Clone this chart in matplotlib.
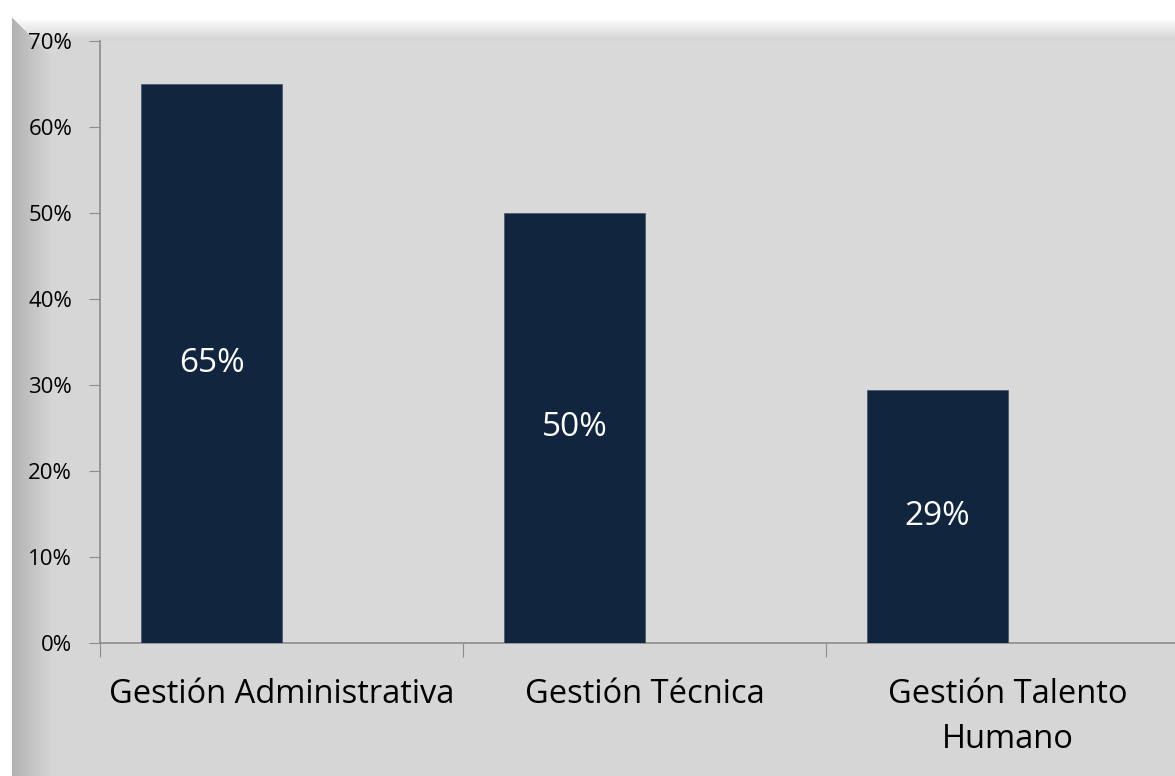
import numpy as np
import matplotlib.pyplot as plt
from matplotlib.ticker import PercentFormatter

plt.rcParams['font.family'] = ['Open Sans', 'DejaVu Sans']

categories = ['Gestión Administrativa', 'Gestión Técnica', 'Gestión Talento\nHumano']
values = [65, 50, 29.4]
labels = ['65%', '50%', '29%']
yticks = [0, 10, 20, 30, 40, 50, 60, 70]

W, H = 1175, 776
fig = plt.figure(figsize=(W / 100, H / 100), dpi=100)

# beveled frame background (mitered left / top edges)
bg = fig.add_axes([0, 0, 1, 1], zorder=-10)
X, Y = np.meshgrid(np.arange(W), np.arange(H))
dl = X - 12.0
dt = Y - 18.0
base = 0.84
left_shade = 0.70 + (base - 0.70) * np.clip(dl / 40, 0, 1)
top_shade = 1.0 - (1.0 - base) * np.clip(dt / 20, 0, 1)
use_top = (dt < dl)
val = np.where(use_top, top_shade, left_shade)
val[X < 12] = 1.0
val[Y < 6] = 1.0
img = np.repeat(val[:, :, None], 3, axis=2)
bg.imshow(img, aspect='auto', interpolation='bilinear', vmin=0, vmax=1)
bg.axis('off')

ax = fig.add_axes([100 / W, 1 - 643 / H, 1089 / W, 602 / H])
ax.set_facecolor('#d9d9d9')
x = np.arange(len(categories))
bars = ax.bar(x - 0.193, values, width=0.386, color='#12253f',
              edgecolor='#4a5a70', linewidth=0.6, zorder=3)
for b, lab in zip(bars, labels):
    ax.text(b.get_x() + b.get_width() / 2, b.get_height() / 2, lab,
            ha='center', va='center', color='white', fontsize=24, zorder=4)

ax.set_xlim(-0.5, len(categories) - 0.5)
ax.set_ylim(0, 70)
ax.set_yticks(yticks)
ax.yaxis.set_major_formatter(PercentFormatter(decimals=0))
ax.tick_params(axis='y', labelsize=16, length=8, color='#8c8c8c', pad=12)

ax.set_xticks(np.arange(len(categories) + 1) - 0.5)
ax.set_xticklabels([])
ax.set_xticks(x, minor=True)
ax.set_xticklabels(categories, minor=True, fontsize=23.5, linespacing=1.5)
ax.tick_params(axis='x', which='major', length=10, color='#8c8c8c')
ax.tick_params(axis='x', which='minor', length=0, pad=25)

for s in ['top', 'right']:
    ax.spines[s].set_visible(False)
for s in ['left', 'bottom']:
    ax.spines[s].set_color('#8c8c8c')
    ax.spines[s].set_linewidth(1.2)

fig.savefig('out.png', dpi=100)
